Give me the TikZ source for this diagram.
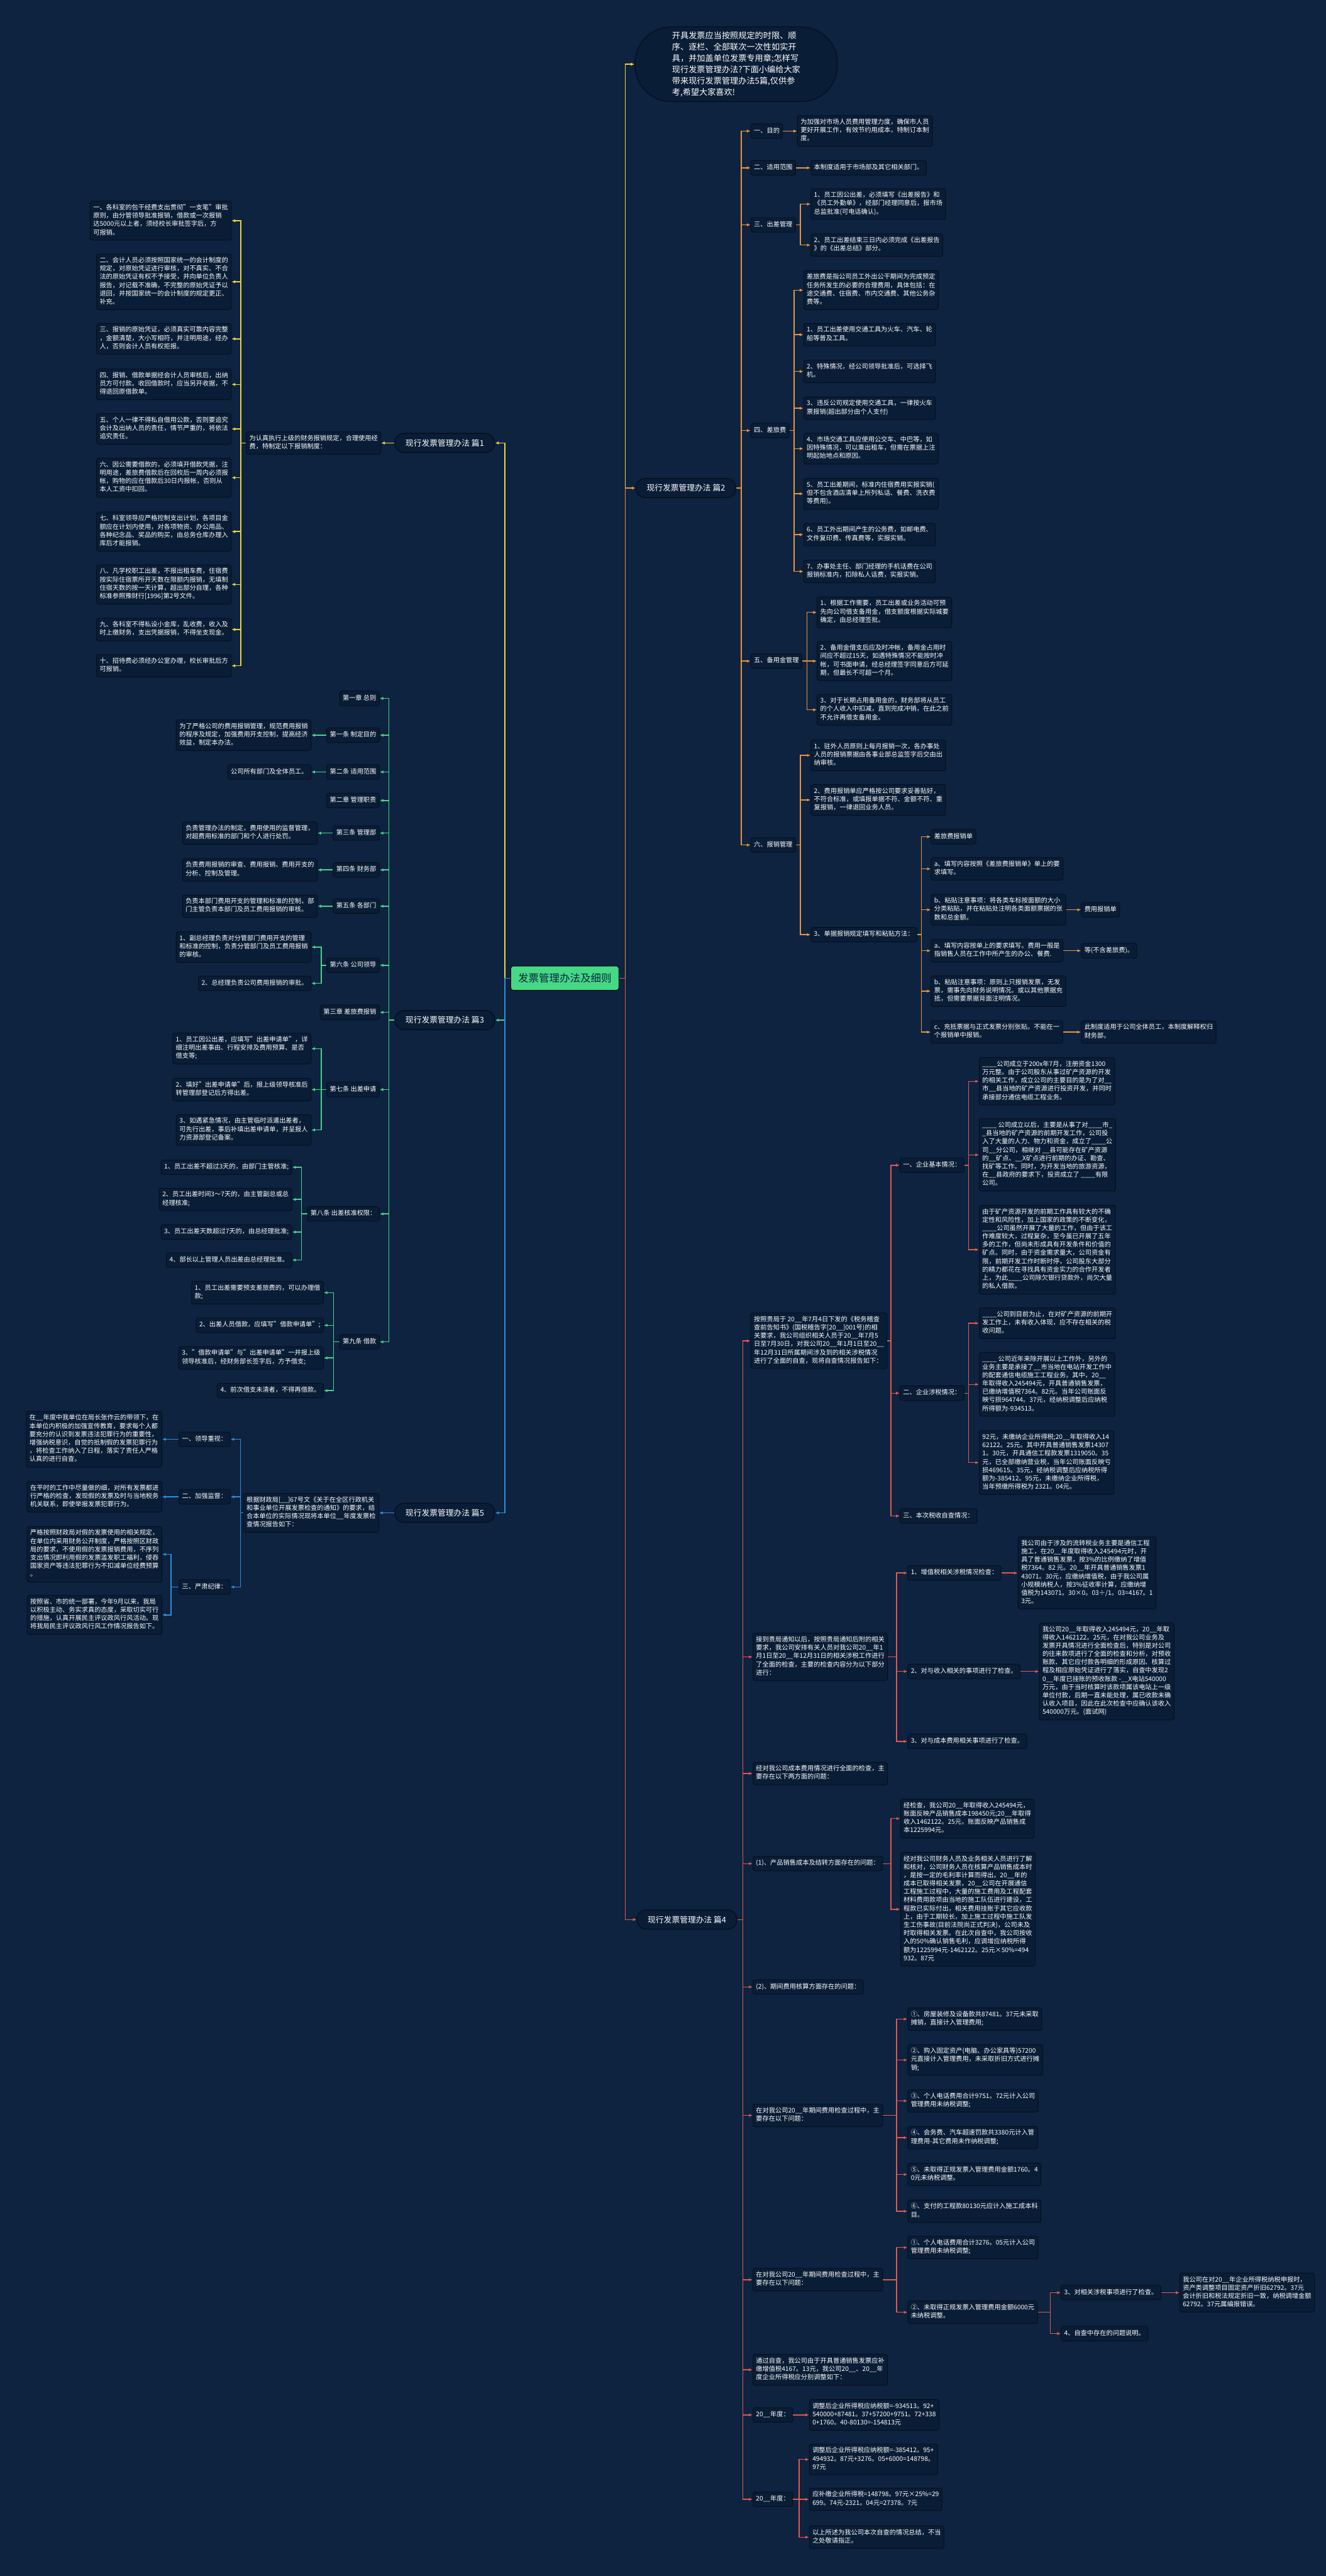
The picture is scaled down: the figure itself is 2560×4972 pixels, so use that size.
\documentclass[tikz,border=0pt]{standalone}
\usepackage{fontspec}
\setmainfont{Noto Sans CJK SC}
\usetikzlibrary{arrows.meta}
\definecolor{bgc}{HTML}{0D2340}
\definecolor{nf}{HTML}{0A1D36}
\definecolor{nb}{HTML}{050F1E}
\definecolor{cyel}{HTML}{F2D33E}
\definecolor{cora}{HTML}{EE9339}
\definecolor{cgrn}{HTML}{45D68A}
\definecolor{cred}{HTML}{E5574C}
\definecolor{cblu}{HTML}{2E8FDB}
\definecolor{cgf}{HTML}{45D985}
\tikzset{
  bx/.style={draw=nb, fill=nf, line width=1.2pt, rounded corners=4pt, inner xsep=6pt, inner ysep=6pt, align=left, text=white, font=\fontsize{12.4}{16}\selectfont, execute at begin node=\strut, execute at end node=\strut},
  R/.style={bx, anchor=west},
  L/.style={bx, anchor=east},
  pian/.style={draw=nb, fill=nf, line width=1.6pt, rounded corners=18pt, text=white, font=\fontsize{15.5}{18}\selectfont, minimum width=193pt, minimum height=37pt, inner sep=0pt},
  cn/.style={line width=1.8pt, -{Latex[length=7pt,width=6pt]}},
  cy/.style={cn, draw=cyel}, co/.style={cn, draw=cora}, cg/.style={cn, draw=cgrn},
  cr/.style={cn, draw=cred}, cb/.style={cn, draw=cblu}
}
\newcommand\myR[4]{\draw[#1] (#2.east) -- (#2.east -| #3) |- (#4.west);}
\newcommand\myL[4]{\draw[#1] (#2.west) -- (#2.west -| #3) |- (#4.east);}
\newcommand\myS[3]{\draw[#1] (#2.east) -- (#3.west);}
\newcommand\mySL[3]{\draw[#1] (#2.west) -- (#3.east);}
\begin{document}
\catcode`\_=12
\begin{tikzpicture}[x=1pt,y=-1pt]
\fill[bgc] (0,0) rectangle (2560,4972);
\useasboundingbox (0,0) rectangle (2560,4972);
% trunks
\coordinate (tR) at (1207,0); \coordinate (tL) at (975,0);
\coordinate (tO) at (1431,0); \coordinate (tO3) at (1545,0); \coordinate (tO4) at (1533,0);
\coordinate (tO5) at (1558,0); \coordinate (tO6) at (1545,0); \coordinate (tO6c) at (1779,0);
\coordinate (tRr) at (1434,0); \coordinate (tRA) at (1720,0); \coordinate (tRA1) at (1870,0);
\coordinate (tRB) at (1731,0); \coordinate (tRD) at (1720,0); \coordinate (tRF) at (1731,0);
\coordinate (tRG2) at (2028,0); \coordinate (tRJ) at (1543,0);
\coordinate (tY) at (465,0); \coordinate (tG) at (751,0); \coordinate (tG8) at (620,0);
\coordinate (tG11) at (582,0); \coordinate (tG12) at (644,0);
\coordinate (tB) at (464,0); \coordinate (tB3) at (330,0);

% center and main branches
\node[draw=nb, fill=cgf, line width=1.5pt, rounded corners=5pt, minimum width=209pt, minimum height=47pt, text=bgc, font=\fontsize{20}{24}\selectfont] (c) at (1090.5,1888) {发票管理办法及细则};
\node[draw=nb, fill=nf, line width=1.6pt, rounded corners=70pt, align=left, text=white, font=\fontsize{16}{21.7}\selectfont, anchor=west, minimum width=391pt, minimum height=144pt] (intro) at (1225,124) {开具发票应当按照规定的时限、顺\\序、逐栏、全部联次一次性如实开\\具，并加盖单位发票专用章;怎样写\\现行发票管理办法?下面小编给大家\\带来现行发票管理办法5篇,仅供参\\考,希望大家喜欢!};
\node[pian, anchor=east] (p1) at (956,855) {现行发票管理办法 篇1};
\node[pian, anchor=west] (p2) at (1227,942) {现行发票管理办法 篇2};
\node[pian, anchor=east] (p3) at (956,1969) {现行发票管理办法 篇3};
\node[pian, anchor=west] (p4) at (1229,3705) {现行发票管理办法 篇4};
\node[pian, anchor=east] (p5) at (956,2920) {现行发票管理办法 篇5};
\draw[cy] (c.east) -- (c.east -| tR) |- (intro.west);
\draw[co] (c.east) -- (c.east -| tR) |- (p2.west);
\draw[cr] (c.east) -- (c.east -| tR) |- (p4.west);
\draw[cy] (c.west) -- (c.west -| tL) |- (p1.east);
\draw[cg] (c.west) -- (c.west -| tL) |- (p3.east);
\draw[cb] (c.west) -- (c.west -| tL) |- (p5.east);

% ===== 篇2 =====
\node[R] (o1) at (1449,253) {一、目的};
\node[R] (o1a) at (1539,253) {为加强对市场人员费用管理力度，确保市人员\\更好开展工作，有效节约用成本，特制订本制\\度。};
\node[R] (o2) at (1449,324) {二、适用范围};
\node[R] (o2a) at (1565,324) {本制度适用于市场部及其它相关部门。};
\node[R] (o3) at (1449,434) {三、出差管理};
\node[R] (o3a) at (1565,394) {1、员工因公出差，必须填写《出差报告》和\\《员工外勤单》，经部门经理同意后，报市场\\总监批准(可电话确认)。};
\node[R] (o3b) at (1565,473) {2、员工出差结束三日内必须完成《出差报告\\》的《出差总结》部分。};
\node[R] (o4) at (1449,831) {四、差旅费};
\node[R] (o4a) at (1551,560) {差旅费是指公司员工外出公干期间为完成预定\\任务所发生的必要的合理费用，具体包括：在\\途交通费、住宿费、市内交通费、其他公务杂\\费等。};
\node[R] (o4b) at (1551,646) {1、员工出差使用交通工具为火车、汽车、轮\\船等普及工具。};
\node[R] (o4c) at (1551,717) {2、特殊情况，经公司领导批准后，可选择飞\\机。};
\node[R] (o4d) at (1551,788) {3、违反公司规定使用交通工具，一律按火车\\票报销(超出部分由个人支付)};
\node[R] (o4e) at (1551,866) {4、市场交通工具应使用公交车、中巴等，如\\因特殊情况，可以乘出租车，但需在票据上注\\明起始地点和原因。};
\node[R] (o4f) at (1551,953) {5、员工出差期间，标准内住宿费用实报实销(\\但不包含酒店清单上所列私话、餐费、洗衣费\\等费用)。};
\node[R] (o4g) at (1551,1032) {6、员工外出期间产生的公务费，如邮电费、\\文件复印费、传真费等，实报实销。};
\node[R] (o4h) at (1551,1103) {7、办事处主任、部门经理的手机话费在公司\\报销标准内，扣除私人话费，实报实销。};
\node[R] (o5) at (1449,1276) {五、备用金管理};
\node[R] (o5a) at (1577,1182) {1、根据工作需要，员工出差或业务活动可预\\先向公司借支备用金，借支额度根据实际城要\\确定，由总经理签批。};
\node[R] (o5b) at (1577,1276) {2、备用金借支后应及时冲帐，备用金占用时\\间应不超过15天，如遇特殊情况不能按时冲\\帐，可书面申请，经总经理签字同意后方可延\\期，但最长不可超一个月。};
\node[R] (o5c) at (1577,1370) {3、对于长期占用备用金的，财务部将从员工\\的个人收入中扣减，直到完成冲销，在此之前\\不允许再借支备用金。};
\node[R] (o6) at (1449,1631) {六、报销管理};
\node[R] (o6a) at (1565,1458) {1、驻外人员原则上每月报销一次，各办事处\\人员的报销票据由各事业部总监签字后交由出\\纳审核。};
\node[R] (o6b) at (1565,1544) {2、费用报销单应严格按公司要求妥善贴好，\\不符合标准，或填报单据不符、金额不符、重\\复报销，一律退回业务人员。};
\node[R] (o6c) at (1565,1804) {3、单据报销规定填写和粘贴方法：};
\node[R] (o6c1) at (1797,1615) {差旅费报销单};
\node[R] (o6c2) at (1797,1677) {a、填写内容按照《差旅费报销单》单上的要\\求填写。};
\node[R] (o6c3) at (1797,1756) {b、粘贴注意事项：将各类车标按面额的大小\\分类粘贴，并在粘贴处注明各类面额票据的张\\数和总金额。};
\node[R] (o6c4) at (1797,1835) {a、填写内容按单上的要求填写。费用一般是\\指销售人员在工作中所产生的办公、餐费.};
\node[R] (o6c5) at (1797,1913) {b、粘贴注意事项：原则上只报销发票，无发\\票，需事先向财务说明情况。或以其他票据充\\抵，但需要票据背面注明情况。};
\node[R] (o6c6) at (1797,1992) {c、充抵票据与正式发票分别张贴。不能在一\\个报销单中报销。};
\node[R] (o6c3x) at (2087,1756) {费用报销单};
\node[R] (o6c4x) at (2087,1835) {等(不含差旅费)。};
\node[R] (o6c6x) at (2087,1992) {此制度适用于公司全体员工，本制度解释权归\\财务部。};
\foreach \k in {o1,o2,o3,o4,o5,o6} {\myR{co}{p2}{tO}{\k}}
\myS{co}{o1}{o1a} \myS{co}{o2}{o2a}
\foreach \k in {o3a,o3b} {\myR{co}{o3}{tO3}{\k}}
\foreach \k in {o4a,o4b,o4c,o4d,o4e,o4f,o4g,o4h} {\myR{co}{o4}{tO4}{\k}}
\foreach \k in {o5a,o5b,o5c} {\myR{co}{o5}{tO5}{\k}}
\foreach \k in {o6a,o6b,o6c} {\myR{co}{o6}{tO6}{\k}}
\foreach \k in {o6c1,o6c2,o6c3,o6c4,o6c5,o6c6} {\myR{co}{o6c}{tO6c}{\k}}
\myS{co}{o6c3}{o6c3x} \myS{co}{o6c4}{o6c4x} \myS{co}{o6c6}{o6c6x}

% ===== 篇4 =====
\node[R] (rA) at (1449,2588) {按照贵局于 20__年7月4日下发的《税务稽查\\查前告知书》(国税稽告字[20__]001号)的相\\关要求，我公司组织相关人员于20__年7月5\\日至7月30日，对我公司20__年1月1日至20__\\年12月31日所属期间涉及到的相关涉税情况\\进行了全面的自查，现将自查情况报告如下：};
\node[R] (rA1) at (1737,2249) {一、企业基本情况：};
\node[R] (rA1a) at (1890,2087) {____公司成立于200x年7月，注册资金1300\\万元整。由于公司股东从事过矿产资源的开发\\的相关工作，成立公司的主要目的是为了对__\\市__县当地的矿产资源进行投资开发，并同时\\承接部分通信电缆工程业务。};
\node[R] (rA1b) at (1890,2229) {____ 公司成立以后，主要是从事了对____市_\\_县当地的矿产资源的前期开发工作，公司投\\入了大量的人力、物力和资金，成立了____公\\司__分公司，相继对 __县可能存在矿产资源\\的__矿点、__X矿点进行前期的办证、勘查、\\找矿等工作。同时，为开发当地的旅游资源，\\在__县政府的要求下，投资成立了 ____有限\\公司。};
\node[R] (rA1c) at (1890,2412) {由于矿产资源开发的前期工作具有较大的不确\\定性和风险性，加上国家的政策的不断变化，\\____公司虽然开展了大量的工作，但由于该工\\作难度较大，过程复杂，至今虽已开展了五年\\多的工作，但尚未形成具有开发条件和价值的\\矿点。同时，由于资金需求量大，公司资金有\\限，前期开发工作时断时停，公司股东大部分\\的精力都花在寻找具有资金实力的合作开发者\\上，为此____公司除欠银行贷款外，尚欠大量\\的私人借款。};
\node[R] (rA2) at (1737,2689) {二、企业涉税情况：};
\node[R] (rA2a) at (1890,2554) {____公司到目前为止，在对矿产资源的前期开\\发工作上，未有收入体现，应不存在相关的税\\收问题。};
\node[R] (rA2b) at (1890,2672) {____ 公司近年来除开展以上工作外，另外的\\业务主要是承接了__市当地在电站开发工作中\\的配套通信电缆施工工程业务。其中，20__\\年取得收入245494元，开具普通销售发票，\\已缴纳增值税7364。82元。当年公司账面反\\映亏损964744。37元，经纳税调整后应纳税\\所得额为-934513。};
\node[R] (rA2c) at (1890,2823) {92元，未缴纳企业所得税;20__年取得收入14\\62122。25元。其中开具普通销售发票14307\\1。30元，开具通信工程款发票1319050。35\\元，已全部缴纳营业税，当年公司账面反映亏\\损469615。35元，经纳税调整后应纳税所得\\额为-385412。95元，未缴纳企业所得税，\\当年预缴所得税为 2321。04元。};
\node[R] (rA3) at (1737,2926) {三、本次税收自查情况：};
\node[R] (rB) at (1453,3198) {接到贵局通知以后，按照贵局通知后附的相关\\要求，我公司安排有关人员对我公司20__年1\\月1日至20__年12月31日的相关涉税工作进行\\了全面的检查，主要的检查内容分为以下部分\\进行：};
\node[R] (rB1) at (1752,3036) {1、增值税相关涉税情况检查：};
\node[R] (rB1a) at (1965,3036) {我公司由于涉及的流转税业务主要是通信工程\\施工，在20__年度取得收入245494元时，开\\具了普通销售发票，按3\%的比例缴纳了增值\\税7364。82 元。20__年开具普通销售发票1\\43071。30元，应缴纳增值税，由于我公司属\\小规模纳税人，按3\%征收率计算，应缴纳增\\值税为143071。30×0。03÷/1。03=4167。1\\3元。};
\node[R] (rB2) at (1752,3226) {2、对与收入相关的事项进行了检查。};
\node[R] (rB2a) at (2006,3226) {我公司20__年取得收入245494元，20__年取\\得收入1462122。25元，在对我公司业务及\\发票开具情况进行全面检查后，特别是对公司\\的往来款项进行了全面的检查和分析，对预收\\账款、其它应付款各明细的形成原因、核算过\\程及相应原始凭证进行了落实，自查中发现2\\0__年度已挂账的预收账款 -__X电站540000\\万元，由于当时核算时该款项属该电站上一级\\单位付款，后期一直未能处理，属已收款未确\\认收入项目，因此在此次检查中应确认该收入\\ 540000万元。(面试网)};
\node[R] (rB3) at (1752,3361) {3、对与成本费用相关事项进行了检查。};
\node[R] (rC) at (1453,3423) {经对我公司成本费用情况进行全面的检查，主\\要存在以下两方面的问题：};
\node[R] (rD) at (1453,3597) {(1)、产品销售成本及结转方面存在的问题：};
\node[R] (rD1) at (1738,3510) {经检查，我公司20__年取得收入245494元，\\账面反映产品销售成本198450元;20__年取得\\收入1462122。25元，账面反映产品销售成\\本1225994元。};
\node[R] (rD2) at (1738,3685) {经对我公司财务人员及业务相关人员进行了解\\和核对，公司财务人员在核算产品销售成本时\\，是按一定的毛利率计算而得出。20__年的\\成本已取得相关发票，20__公司在开展通信\\工程施工过程中，大量的施工费用及工程配套\\材料费用款项由当地的施工队伍进行建设，工\\程款已实际付出，相关费用挂账于其它应收款\\上，由于工期较长，加上施工过程中施工队发\\生工伤事故(目前法院尚正式判决)，公司未及\\时取得相关发票。在此次自查中，我公司按收\\入的50\%确认销售毛利，应调增应纳税所得\\额为1225994元-1462122。25元×50\%=494\\932。87元};
\node[R] (rE) at (1453,3835) {(2)、期间费用核算方面存在的问题：};
\node[R] (rF) at (1453,4083) {在对我公司20__年期间费用检查过程中，主\\要存在以下问题：};
\node[R] (rF1) at (1752,3897) {①、房屋装修及设备款共87481。37元未采取\\摊销，直接计入管理费用;};
\node[R] (rF2) at (1752,3976) {②、购入固定资产(电脑、办公家具等)57200\\元直接计入管理费用，未采取折旧方式进行摊\\销;};
\node[R] (rF3) at (1752,4055) {③、个人电话费用合计9751。72元计入公司\\管理费用未纳税调整;};
\node[R] (rF4) at (1752,4126) {④、会务费、汽车超速罚款共3380元计入管\\理费用-其它费用未作纳税调整;};
\node[R] (rF5) at (1752,4197) {⑤、未取得正规发票入管理费用金额1760。4\\0元未纳税调整。};
\node[R] (rF6) at (1752,4268) {⑥、支付的工程款80130元应计入施工成本科\\目。};
\node[R] (rG) at (1453,4400) {在对我公司20__年期间费用检查过程中，主\\要存在以下问题：};
\node[R] (rG1) at (1752,4338) {①、个人电话费用合计3276。05元计入公司\\管理费用未纳税调整;};
\node[R] (rG2) at (1752,4463) {②、未取得正规发票入管理费用金额6000元\\未纳税调整。};
\node[R] (rG2a) at (2048,4425) {3、对相关涉税事项进行了检查。};
\node[R] (rG2a1) at (2277,4425) {我公司在对20__年企业所得税纳税申报时，\\资产类调整项目固定资产折旧62792。37元\\会计折旧和税法规定折旧一致，纳税调增金额\\62792。37元属编报错误。};
\node[R] (rG2b) at (2048,4504) {4、自查中存在的问题说明。};
\node[R] (rH) at (1453,4574) {通过自查，我公司由于开具普通销售发票应补\\缴增值税4167。13元，我公司20__、20__年\\度企业所得税应分别调整如下：};
\node[R] (rI) at (1453,4661) {20__年度：};
\node[R] (rI1) at (1562,4661) {调整后企业所得税应纳税额=-934513。92+\\540000+87481。37+57200+9751。72+338\\0+1760。40-80130=-154813元};
\node[R] (rJ) at (1453,4824) {20__年度：};
\node[R] (rJ1) at (1562,4747) {调整后企业所得税应纳税额=-385412。95+\\494932。87元+3276。05+6000=148798。\\97元};
\node[R] (rJ2) at (1562,4824) {应补缴企业所得税=148798。97元×25\%=29\\699。74元-2321。04元=27378。7元};
\node[R] (rJ3) at (1562,4897) {以上所述为我公司本次自查的情况总结，不当\\之处敬请指正。};
\foreach \k in {rA,rB,rC,rD,rE,rF,rG,rH,rI,rJ} {\myR{cr}{p4}{tRr}{\k}}
\foreach \k in {rA1,rA2,rA3} {\myR{cr}{rA}{tRA}{\k}}
\foreach \k in {rA1a,rA1b,rA1c} {\myR{cr}{rA1}{tRA1}{\k}}
\foreach \k in {rA2a,rA2b,rA2c} {\myR{cr}{rA2}{tRA1}{\k}}
\foreach \k in {rB1,rB2,rB3} {\myR{cr}{rB}{tRB}{\k}}
\myS{cr}{rB1}{rB1a} \myS{cr}{rB2}{rB2a}
\foreach \k in {rD1,rD2} {\myR{cr}{rD}{tRD}{\k}}
\foreach \k in {rF1,rF2,rF3,rF4,rF5,rF6} {\myR{cr}{rF}{tRF}{\k}}
\foreach \k in {rG1,rG2} {\myR{cr}{rG}{tRF}{\k}}
\foreach \k in {rG2a,rG2b} {\myR{cr}{rG2}{tRG2}{\k}}
\myS{cr}{rG2a}{rG2a1}
\myS{cr}{rI}{rI1}
\foreach \k in {rJ1,rJ2,rJ3} {\myR{cr}{rJ}{tRJ}{\k}}

% ===== 篇1 =====
\node[L] (y0) at (736,855) {为认真执行上级的财务报销规定，合理使用经\\费，特制定以下报销制度：};
\node[L] (y1) at (447,426) {一、各科室的包干经费支出贯彻"一支笔"审批\\原则，由分管领导批准报销，借款或一次报销\\达5000元以上者，须经校长审批签字后，方\\可报销。};
\node[L] (y2) at (447,544) {二、会计人员必须按照国家统一的会计制度的\\规定，对原始凭证进行审核，对不真实、不合\\法的原始凭证有权不予接受，并向单位负责人\\报告，对记载不准确，不完整的原始凭证予以\\退回，并按国家统一的会计制度的规定更正、\\补充。};
\node[L] (y3) at (447,654) {三、报销的原始凭证，必须真实可靠内容完整\\，金额清楚，大小写相符，并注明用途，经办\\人，否则会计人员有权拒报。};
\node[L] (y4) at (447,742) {四、报销、借款单据经会计人员审核后，出纳\\员方可付款。收回借款时，应当另开收据，不\\得退回原借款单。};
\node[L] (y5) at (447,828) {五、个人一律不得私自借用公款，否则要追究\\会计及出纳人员的责任，情节严重的，将依法\\追究责任。};
\node[L] (y6) at (447,922) {六、因公需要借款的，必须填开借款凭据，注\\明用途，差旅费借款后在回校后一周内必须报\\帐，购物的应在借款后30日内报帐，否则从\\本人工资中扣回。};
\node[L] (y7) at (447,1026) {七、科室领导应严格控制支出计划，各项目金\\额应在计划内使用，对各项物资、办公用品、\\各种纪念品、奖品的购买，由总务仓库办理入\\库后才能报销。};
\node[L] (y8) at (447,1128) {八、凡学校职工出差，不报出租车费，住宿费\\按实际住宿票所开天数在限额内报销，无填制\\住宿天数的按一天计算，超出部分自理，各种\\标准参照豫财行[1996]第2号文件。};
\node[L] (y9) at (447,1215) {九、各科室不得私设小金库，乱收费，收入及\\时上缴财务，支出凭据报销，不得坐支现金。};
\node[L] (y10) at (447,1285) {十、招待费必须经办公室办理，校长审批后方\\可报销。};
\mySL{cy}{p1}{y0}
\foreach \k in {y1,y2,y3,y4,y5,y6,y7,y8,y9,y10} {\myL{cy}{y0}{tY}{\k}}

% ===== 篇3 =====
\node[L] (g1) at (733,1348) {第一章 总则};
\node[L] (g2) at (733,1419) {第一条 制定目的};
\node[L] (g2a) at (601,1419) {为了严格公司的费用报销管理，规范费用报销\\的程序及规定，加强费用开支控制，提高经济\\效益，制定本办法。};
\node[L] (g3) at (733,1490) {第二条 适用范围};
\node[L] (g3a) at (601,1490) {公司所有部门及全体员工。};
\node[L] (g4) at (733,1545) {第二章 管理职责};
\node[L] (g5) at (733,1608) {第三条 管理部};
\node[L] (g5a) at (613,1608) {负责管理办法的制定，费用使用的监督管理，\\对超费用标准的部门和个人进行处罚。};
\node[L] (g6) at (733,1679) {第四条 财务部};
\node[L] (g6a) at (613,1679) {负责费用报销的审查、费用报销、费用开支的\\分析、控制及管理。};
\node[L] (g7) at (733,1749) {第五条 各部门};
\node[L] (g7a) at (613,1749) {负责本部门费用开支的管理和标准的控制，部\\门主管负责本部门及员工费用报销的审核。};
\node[L] (g8) at (733,1863) {第六条 公司领导};
\node[L] (g8a) at (601,1828) {1、副总经理负责对分管部门费用开支的管理\\和标准的控制，负责分管部门及员工费用报销\\的审核。};
\node[L] (g8b) at (601,1898) {2、总经理负责公司费用报销的审批。};
\node[L] (g9) at (733,1954) {第三章 差旅费报销};
\node[L] (g10) at (733,2103) {第七条 出差申请};
\node[L] (g10a) at (601,2024) {1、员工因公出差，应填写"出差申请单"，详\\细注明出差事由、行程安排及费用预算、是否\\借支等;};
\node[L] (g10b) at (601,2103) {2、填好"出差申请单"后，报上级领导核准后\\转管理部登记后方得出差。};
\node[L] (g10c) at (601,2181) {3、如遇紧急情况，由主管临时派遣出差者，\\可先行出差，事后补填出差申请单，并呈报人\\力资源部登记备案。};
\node[L] (g11) at (733,2343) {第八条 出差核准权限：};
\node[L] (g11a) at (564,2253) {1、员工出差不超过3天的，由部门主管核准;};
\node[L] (g11b) at (564,2315) {2、员工出差时间3～7天的，由主管副总或总\\经理核准;};
\node[L] (g11c) at (564,2378) {3、员工出差天数超过7天的，由总经理批准;};
\node[L] (g11d) at (564,2432) {4、部长以上管理人员出差由总经理批准。};
\node[L] (g12) at (733,2590) {第九条 借款};
\node[L] (g12a) at (625,2495) {1、员工出差需要预支差旅费的，可以办理借\\款;};
\node[L] (g12b) at (625,2558) {2、出差人员借款，应填写"借款申请单";};
\node[L] (g12c) at (625,2621) {3、"借款申请单"与"出差申请单"一并报上级\\领导核准后，经财务部长签字后，方予借支;};
\node[L] (g12d) at (625,2684) {4、前次借支未清者，不得再借款。};
\foreach \k in {g1,g2,g3,g4,g5,g6,g7,g8,g9,g10,g11,g12} {\myL{cg}{p3}{tG}{\k}}
\mySL{cg}{g2}{g2a} \mySL{cg}{g3}{g3a} \mySL{cg}{g5}{g5a} \mySL{cg}{g6}{g6a} \mySL{cg}{g7}{g7a}
\foreach \k in {g8a,g8b} {\myL{cg}{g8}{tG8}{\k}}
\foreach \k in {g10a,g10b,g10c} {\myL{cg}{g10}{tG8}{\k}}
\foreach \k in {g11a,g11b,g11c,g11d} {\myL{cg}{g11}{tG11}{\k}}
\foreach \k in {g12a,g12b,g12c,g12d} {\myL{cg}{g12}{tG12}{\k}}

% ===== 篇5 =====
\node[L] (b0) at (732,2920) {根据财政局[__]67号文《关于在全区行政机关\\和事业单位开展发票检查的通知》的要求，结\\合本单位的实际情况现将本单位__年度发票检\\查情况报告如下：};
\node[L] (b1) at (445,2778) {一、领导重视：};
\node[L] (b1a) at (313,2778) {在__年度中我单位在局长张作云的带领下，在\\本单位内积极的加强宣传教育，要求每个人都\\要充分的认识到发票违法犯罪行为的重要性，\\增强纳税意识，自觉的抵制假的发票犯罪行为\\，将检查工作纳入了日程，落实了责任人严格\\认真的进行自查。};
\node[L] (b2) at (445,2889) {二、加强监督：};
\node[L] (b2a) at (313,2889) {在平时的工作中尽量做的细，对所有发票都进\\行严格的检查，发现假的发票及时与当地税务\\机关联系，即使举报发票犯罪行为。};
\node[L] (b3) at (445,3063) {三、严肃纪律：};
\node[L] (b3a) at (313,3000) {严格按照财政局对假的发票使用的相关规定，\\在单位内采用财务公开制度，严格按照区财政\\局的要求，不使用假的发票报销费用，不序列\\支出情况即利用假的发票滥发职工福利，侵吞\\国家资产等违法犯罪行为不扣减单位经费预算\\。};
\node[L] (b3b) at (313,3117) {按照省、市的统一部署，今年9月以来，我局\\以积极主动、务实求真的态度，采取切实可行\\的措施，认真开展民主评议政风行风活动。现\\将我局民主评议政风行风工作情况报告如下。};
\mySL{cb}{p5}{b0}
\foreach \k in {b1,b2,b3} {\myL{cb}{b0}{tB}{\k}}
\mySL{cb}{b1}{b1a} \mySL{cb}{b2}{b2a}
\foreach \k in {b3a,b3b} {\myL{cb}{b3}{tB3}{\k}}
\end{tikzpicture}
\end{document}
